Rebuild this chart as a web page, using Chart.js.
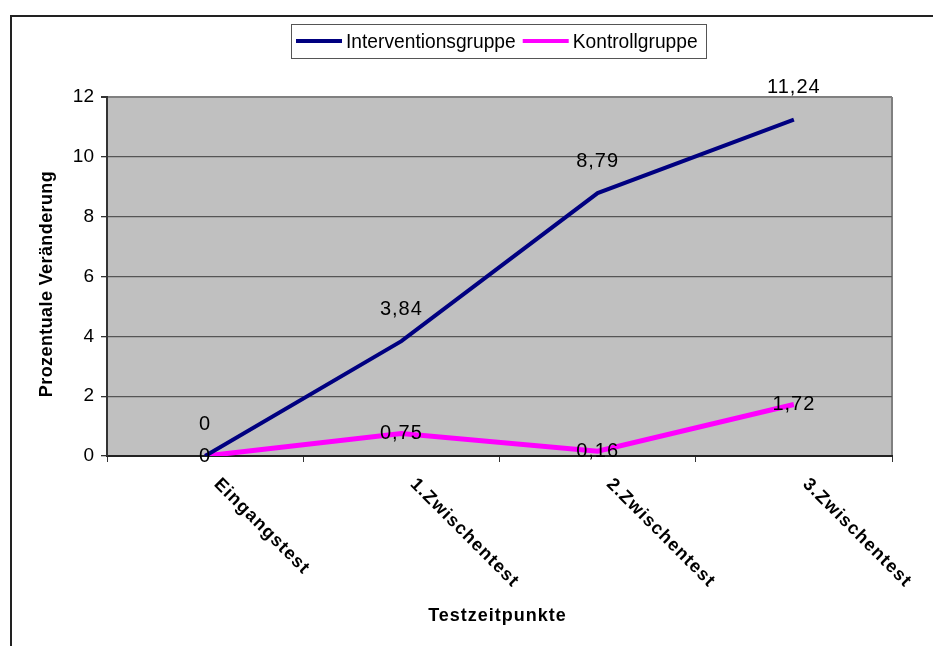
<!DOCTYPE html>
<html>
<head>
<meta charset="utf-8">
<script src="https://cdn.jsdelivr.net/npm/chart.js@4/dist/chart.umd.min.js"></script>
<style>
  html, body { margin: 0; padding: 0; background: #fff; }
  #wrap { width: 933px; height: 646px; }
</style>
</head>
<body>
<div id="wrap"><canvas id="c" width="933" height="646"></canvas></div>
<script>
// Test points and percentage change per group
const categories = ['Eingangstest', '1.Zwischentest', '2.Zwischentest', '3.Zwischentest'];
const seriesNames = ['Interventionsgruppe', 'Kontrollgruppe'];
const interventionValues = [0, 3.84, 8.79, 11.24];
const kontrollValues = [0, 0.75, 0.16, 1.72];
const yTickValues = [0, 2, 4, 6, 8, 10, 12];
const xTitle = 'Testzeitpunkte';
const yTitle = 'Prozentuale Veränderung';

const FONT = '"Liberation Sans", Arial, sans-serif';
const fmt = v => String(v).replace('.', ',');

// Grey plot area, outer frame, legend, axis titles, rotated category labels, value labels
const decor = {
  id: 'decor',
  beforeDraw(chart) {
    const { ctx, chartArea: a } = chart;
    ctx.save();
    ctx.fillStyle = '#fff';
    ctx.fillRect(0, 0, chart.width, chart.height);
    // outer frame (open at right/bottom edges of the window)
    ctx.strokeStyle = '#222';
    ctx.lineWidth = 2;
    ctx.beginPath();
    ctx.moveTo(11, chart.height + 2);
    ctx.lineTo(11, 16);
    ctx.lineTo(chart.width + 2, 16);
    ctx.stroke();
    // plot background
    ctx.fillStyle = '#c0c0c0';
    ctx.fillRect(a.left, a.top, a.right - a.left, a.bottom - a.top);
    // right edge of plot area
    ctx.strokeStyle = '#808080';
    ctx.lineWidth = 2;
    ctx.beginPath();
    ctx.moveTo(a.right, a.top);
    ctx.lineTo(a.right, a.bottom);
    ctx.stroke();
    ctx.restore();
  },
  afterDraw(chart) {
    const { ctx, chartArea: a } = chart;
    const xs = chart.scales.x;
    ctx.save();

    // legend
    const lx0 = 291, ly0 = 24, lx1 = 706, ly1 = 58, lyc = 41;
    ctx.fillStyle = '#fff';
    ctx.fillRect(lx0, ly0, lx1 - lx0, ly1 - ly0);
    ctx.strokeStyle = '#555';
    ctx.lineWidth = 1;
    ctx.strokeRect(lx0 + 0.5, ly0 + 0.5, lx1 - lx0, ly1 - ly0);
    ctx.font = '20px ' + FONT;
    ctx.textBaseline = 'middle';
    ctx.textAlign = 'left';
    const sx = 0.96;
    let cx = 296;
    chart.data.datasets.forEach(ds => {
      ctx.strokeStyle = ds.borderColor;
      ctx.lineWidth = 4;
      ctx.beginPath();
      ctx.moveTo(cx, lyc);
      ctx.lineTo(cx + 46, lyc);
      ctx.stroke();
      ctx.fillStyle = '#000';
      ctx.save();
      ctx.translate(cx + 50, lyc + 1);
      ctx.scale(sx, 1.05);
      ctx.fillText(ds.label, 0, 0);
      ctx.restore();
      cx += 50 + ctx.measureText(ds.label).width * sx + 7;
    });

    // value labels
    ctx.font = '20px ' + FONT;
    ctx.letterSpacing = '1px';
    ctx.fillStyle = '#000';
    ctx.textAlign = 'center';
    ctx.textBaseline = 'middle';
    chart.data.datasets.forEach((ds, di) => {
      const meta = chart.getDatasetMeta(di);
      const dy = di === 0 ? -32 : 0;
      meta.data.forEach((pt, i) => {
        ctx.fillText(fmt(ds.data[i]), pt.x, pt.y + dy);
      });
    });

    // rotated category labels
    ctx.font = 'bold 18px ' + FONT;
    ctx.letterSpacing = '1.2px';
    ctx.textAlign = 'left';
    ctx.textBaseline = 'top';
    categories.forEach((lab, i) => {
      const x = xs.getPixelForValue(i);
      ctx.save();
      ctx.translate(x + 18, a.bottom + 19);
      ctx.rotate(Math.PI / 4);
      ctx.fillText(lab, 0, 0);
      ctx.restore();
    });

    // axis titles
    ctx.font = 'bold 18px ' + FONT;
    ctx.letterSpacing = '1px';
    ctx.textAlign = 'center';
    ctx.textBaseline = 'middle';
    ctx.fillText(xTitle, (a.left + a.right) / 2 - 2, 616);
    ctx.letterSpacing = '0.4px';
    ctx.save();
    ctx.translate(47, 284);
    ctx.rotate(-Math.PI / 2);
    ctx.fillText(yTitle, 0, 0);
    ctx.restore();

    ctx.restore();
  }
};

new Chart(document.getElementById('c'), {
  type: 'line',
  data: {
    labels: categories,
    datasets: [
      {
        label: seriesNames[0],
        data: interventionValues,
        borderColor: '#000080',
        backgroundColor: '#000080',
        borderWidth: 4,
        pointRadius: 0,
        tension: 0
      },
      {
        label: seriesNames[1],
        data: kontrollValues,
        borderColor: '#ff00ff',
        backgroundColor: '#ff00ff',
        borderWidth: 5,
        pointRadius: 0,
        tension: 0
      }
    ]
  },
  options: {
    responsive: false,
    animation: false,
    devicePixelRatio: 1,
    layout: { padding: { top: 97, right: 41, left: 0, bottom: 0 } },
    plugins: { legend: { display: false }, tooltip: { enabled: false } },
    scales: {
      x: {
        type: 'category',
        offset: true,
        afterFit(s) { s.height = 190; },
        ticks: { display: false },
        grid: {
          offset: true,
          drawOnChartArea: false,
          drawTicks: true,
          tickLength: 6,
          color: '#333',
          lineWidth: 1
        },
        border: { display: true, color: '#222', width: 2 }
      },
      y: {
        min: 0,
        max: 12,
        afterFit(s) { s.width = 107; },
        afterBuildTicks(s) { s.ticks = yTickValues.map(v => ({ value: v })); },
        ticks: {
          font: { family: FONT, size: 19 },
          color: '#000',
          padding: 7,
          callback: v => fmt(v)
        },
        grid: {
          color: ctx => ctx.tick && ctx.tick.value === 12 ? '#808080' : '#555',
          lineWidth: ctx => ctx.tick && ctx.tick.value === 12 ? 2 : 1.3,
          tickColor: '#333',
          tickLength: 6
        },
        border: { display: true, color: '#333', width: 2 }
      }
    }
  },
  plugins: [decor]
});
</script>
</body>
</html>
